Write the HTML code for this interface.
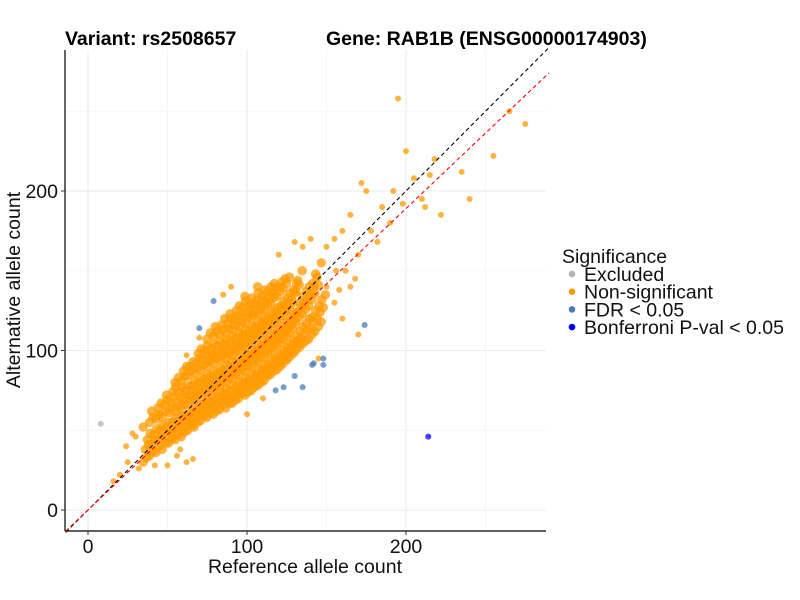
<!DOCTYPE html>
<html><head><meta charset="utf-8"><style>
body{margin:0;background:#fff;}
svg{display:block;font-family:"Liberation Sans",Arial,sans-serif;}
</style></head><body>
<svg id="chart" width="800" height="600">
<g id="grid"></g>
<g id="lines"></g>
<g id="points"></g>
<g id="axes"></g>
<text x="65" y="45" font-size="19.5" font-weight="bold">Variant: rs2508657</text>
<text x="326" y="45" font-size="19.5" font-weight="bold">Gene: RAB1B (ENSG00000174903)</text>
<text x="305" y="573" font-size="19.5" text-anchor="middle" fill="#111">Reference allele count</text>
<text transform="translate(20,290) rotate(-90)" font-size="19.5" text-anchor="middle" fill="#111">Alternative allele count</text>
<g id="legend">
<text x="562" y="263" font-size="19.5" fill="#111">Significance</text>
</g>
</svg>
<script>
const xTicks=[0,100,200];
const yTicks=[0,100,200];
const minorTicks=[50,150,250];
const slopeRed=0.945;
const coreCols=[36,40,44,48,52,56,60,64,68,72,76,80,84,88,92,96,100,104,108,112,116,120,124,128,132,136,140,144,148];
const coreYs=[
[30,38,44,52],[34,41,47,55,62],[36,44,50,57,64],[38,45,52,58,66,72],[42,48,55,61,67,74],
[44,50,56,62,68,74,80],[46,52,58,63,69,75,81,87],[50,55,61,66,72,78,84,90],[52,58,63,69,74,80,86,92,98],
[56,61,66,71,77,82,88,94,100],[58,63,68,74,79,84,90,95,101,107],[60,66,71,76,81,86,92,97,103,109,115],
[63,68,73,78,83,88,94,99,104,110,116],[64,70,75,80,85,90,95,100,106,111,117,123],[67,72,77,82,87,92,97,102,108,113,119,125],
[70,75,80,85,90,95,100,105,110,115,121,127],[72,77,82,87,92,97,102,107,112,117,123,129,134],[75,80,85,90,95,100,105,110,115,120,125,131],
[78,83,88,93,98,103,108,113,118,123,128,134,140],[81,86,91,96,101,106,111,116,121,126,131,137],[85,90,95,100,105,110,115,120,125,130,136,142],
[88,93,98,103,108,113,118,123,128,134,140],[92,97,102,107,112,117,122,127,133,139,145],[96,101,106,111,116,121,126,132,138,146],
[100,106,112,118,124,130,137,144],[104,110,117,123,130,137,150],[107,114,121,128,135,142],[112,120,128,136,146],[118,127,135,155]];
const coreCols2=[38,42,46,50,54,58,62,66,70,74,78,82,86,90,94,98,102,106,110,114,118,122,126,130,134,138,142,146];
const coreYs2=[
[33,41,48],[37,44,51,58],[40,47,53,60,67],[42,49,55,62,69],[45,51,58,64,71,77],
[47,53,59,65,71,77,83],[49,55,60,66,72,78,84,90],[53,58,64,69,75,81,87,93],[55,61,66,72,77,83,89,95,101],
[59,64,69,74,80,85,91,97,103],[61,66,71,77,82,87,93,98,104,111],[62,68,74,79,84,89,95,100,106,112],
[66,71,76,81,86,91,97,102,107,113,120],[67,72,78,83,88,93,98,104,109,114,120],[69,74,80,85,90,95,100,105,111,116,122,128],
[73,78,83,88,93,98,103,108,113,118,124,131],[74,80,85,90,95,100,105,110,115,121,127,133],[77,83,88,93,98,103,108,113,118,123,129,136],
[80,86,91,96,101,106,111,116,121,126,132,138],[84,89,94,99,104,109,114,119,124,129,134,140],[87,92,97,102,107,112,117,122,127,133,139],
[90,95,100,105,110,115,120,126,131,137,143],[94,99,104,109,114,120,125,130,136,142],[98,104,109,114,119,124,130,136,142],
[102,108,115,121,127,134,141],[106,113,120,126,133,140],[110,118,125,132,140,148],[115,124,132,141]];
const extraRef=[16,20,25,28,32,45,50,58,62,150,155,160,162,165,170,175,178,185,190,192,195,200,205,210,212,215,218,222,235,240,255,265,275,172,135,140,120,130,150,155,160,165,100,110,90,85,170,145,62,70,30,24,42,56,66,156,182,198,168,158];
const extraAlt=[18,22,30,48,26,60,28,38,30,165,170,175,150,185,160,200,175,190,180,200,258,225,208,195,190,210,220,185,212,195,222,250,242,205,165,170,160,168,140,130,120,140,60,70,140,135,110,95,97,108,46,40,28,34,32,150,168,192,145,138];
const fdrRef=[79,70,174,148,148,141,142,130,118,123,135];
const fdrAlt=[131,114,116,95,91,91,92,84,75,77,77];
const bonfRef=[214];
const bonfAlt=[46];
const exclRef=[8];
const exclAlt=[54];
const legendLabels=["Excluded","Non-significant","FDR < 0.05","Bonferroni P-val < 0.05"];
const legendColors=["#b3b3b3","#ff9900","#4a7db3","#0000ff"];

const X=v=>88+v*1.59;
const Y=v=>510-v*1.595;
const NS="http://www.w3.org/2000/svg";
function mk(tag,parent,attrs){const e=document.createElementNS(NS,tag);for(const k in attrs)e.setAttribute(k,attrs[k]);parent.appendChild(e);return e;}
const L=65,R=546,T=50,B=531;
const grid=document.getElementById('grid');
minorTicks.concat(xTicks).forEach(v=>{
 const maj=xTicks.includes(v);
 const a=mk('line',grid,{x1:X(v),x2:X(v),y1:T,y2:B,stroke:maj?'#ebebeb':'#f3f3f3','stroke-width':maj?1.1:0.8});
 
 
 const b=mk('line',grid,{x1:L,x2:R,y1:Y(v),y2:Y(v),stroke:maj?'#ebebeb':'#f3f3f3','stroke-width':maj?1.1:0.8});
 
 
});
const lines=document.getElementById('lines');
const pts=document.getElementById('points');
function dot(x,y,c,name,r){const d=mk('circle',pts,{cx:X(x),cy:Y(y),r:r||3,fill:c,'fill-opacity':0.75});
 
 }
coreCols.forEach((x,i)=>coreYs[i].forEach((y,j)=>dot(x+((j%3)-1)*1.3,y,'#ff9900','nonsig-point',4.7)));
coreCols2.forEach((x,i)=>coreYs2[i].forEach((y,j)=>dot(x+((j%3)-1)*1.1,y,'#ff9900','nonsig-point',4.7)));
extraRef.forEach((x,i)=>dot(x,extraAlt[i],'#ff9900','nonsig-point'));
fdrRef.forEach((x,i)=>dot(x,fdrAlt[i],'#4a7db3','fdr-point'));
bonfRef.forEach((x,i)=>dot(x,bonfAlt[i],'#0000ff','bonferroni-point'));
exclRef.forEach((x,i)=>dot(x,exclAlt[i],'#b3b3b3','excluded-point'));
const x0=-14,x1=290;
const bl=mk('line',lines,{x1:X(x0),y1:Y(x0),x2:X(x1),y2:Y(x1),stroke:'#000','stroke-width':1.1,'stroke-dasharray':'4,3'});


const rl=mk('line',lines,{x1:X(x0),y1:Y(x0*slopeRed),x2:X(x1),y2:Y(x1*slopeRed),stroke:'#ff0000','stroke-width':1.1,'stroke-dasharray':'4,3'});


document.getElementById('chart').appendChild(lines);
const axes=document.getElementById('axes');
const ya=mk('line',axes,{x1:L,x2:L,y1:T,y2:B,stroke:'#000','stroke-width':1.2});


const xa=mk('line',axes,{x1:L,x2:R,y1:B,y2:B,stroke:'#000','stroke-width':1.2});


xTicks.forEach(v=>{
 mk('line',axes,{x1:X(v),x2:X(v),y1:B,y2:B+4,stroke:'#333'});
 const t=mk('text',axes,{x:X(v),y:B+22,'font-size':19.5,'text-anchor':'middle',fill:'#111'});t.textContent=v;
 
 
});
yTicks.forEach(v=>{
 mk('line',axes,{x1:L-4,x2:L,y1:Y(v),y2:Y(v),stroke:'#333'});
 const t=mk('text',axes,{x:L-7,y:Y(v)+7,'font-size':19.5,'text-anchor':'end',fill:'#111'});t.textContent=v;
 
 
});
const lg=document.getElementById('legend');
legendLabels.forEach((s,i)=>{
 const y=274+i*17.7;
 const c=mk('circle',lg,{cx:572,cy:y,r:3.3,fill:legendColors[i]});
 
 
 const t=mk('text',lg,{x:584,y:y+7,'font-size':19.5,fill:'#111'});t.textContent=s;
 
 
});
</script>
</body></html>
